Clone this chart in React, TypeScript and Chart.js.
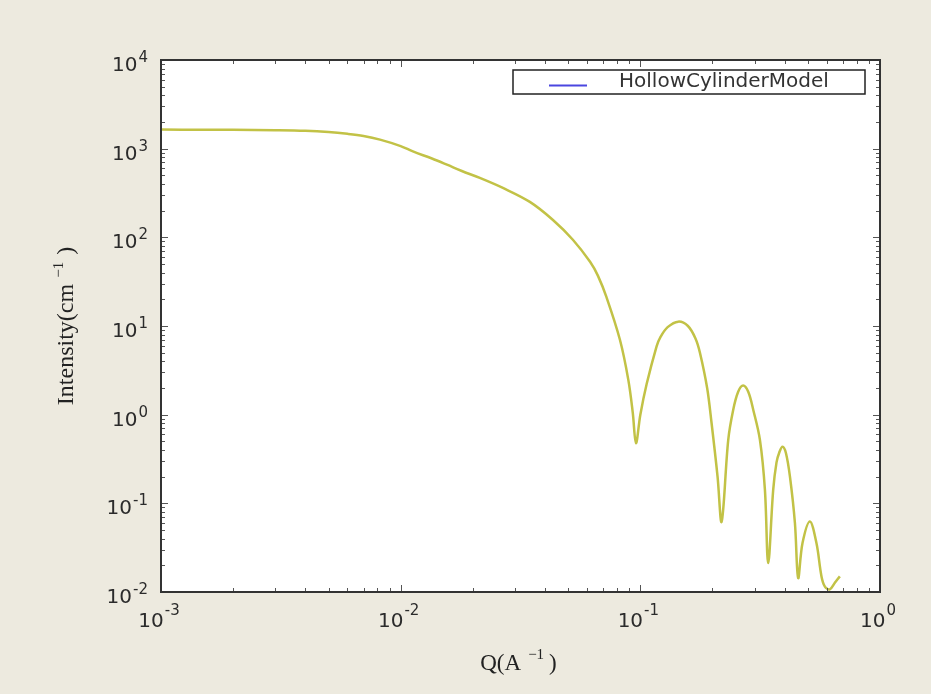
import React, { useEffect, useRef } from 'react';
import { Chart, registerables } from 'chart.js';

Chart.register(...registerables);

const qValues = [
  0.001, 0.0015, 0.002, 0.003, 0.004, 0.005, 0.006, 0.007, 0.0082, 0.01,
  0.01125, 0.0135, 0.0156, 0.018, 0.0214, 0.0267, 0.0346, 0.0432, 0.0523, 0.0617,
  0.0665, 0.0723, 0.0822, 0.0891, 0.093, 0.0959, 0.1, 0.1062, 0.1169, 0.121,
  0.13, 0.144, 0.158, 0.17, 0.1773, 0.19, 0.1983, 0.21, 0.2184, 0.2327,
  0.244, 0.256, 0.2685, 0.282, 0.296, 0.3155, 0.331, 0.3416, 0.3584, 0.37,
  0.38, 0.392, 0.405, 0.421, 0.4416, 0.4555, 0.475, 0.5097, 0.543, 0.57,
  0.589, 0.6175, 0.648, 0.68,
];

const intensityValues = [
  1640, 1638, 1632, 1615, 1590, 1540, 1470, 1390, 1265, 1070,
  930, 775, 660, 560, 468, 361, 251, 157, 94, 53,
  37, 21, 7.0, 2.47, 1.05, 0.477, 1.0, 2.2, 5.9, 7.4,
  9.7, 11.2, 10.0, 7.2, 5.0, 2.0, 0.8, 0.2, 0.062, 0.52,
  1.13, 1.81, 2.13, 1.81, 1.13, 0.52, 0.142, 0.0212, 0.142, 0.29,
  0.375, 0.436, 0.37, 0.2, 0.06, 0.0144, 0.0356, 0.0624, 0.0356, 0.015,
  0.0115, 0.0107, 0.0127, 0.015,
];

const tickBase = '10';
const xTickExponents = [-3, -2, -1, 0];
const yTickExponents = [-2, -1, 0, 1, 2, 3, 4];

const seriesLabel = 'HollowCylinderModel';
const xTitleParts = ['Q(A', '\u22121', ')'];
const yTitleParts = ['Intensity(cm', '\u22121', ')'];

const lineColor = '#C2C246';
const legendLineColor = '#4B46E0';
const pageBackground = '#EDEADF';
const textColor = '#2B2B2B';

const decorPlugin = {
  id: 'decor',
  beforeDraw(chart: any) {
    const { ctx, chartArea } = chart;
    ctx.save();
    ctx.fillStyle = pageBackground;
    ctx.fillRect(0, 0, chart.width, chart.height);
    ctx.fillStyle = '#FFFFFF';
    ctx.fillRect(chartArea.left, chartArea.top, chartArea.right - chartArea.left, chartArea.bottom - chartArea.top);
    ctx.restore();
  },
  afterDatasetsDraw(chart: any) {
    const { ctx, chartArea } = chart;
    const { left, right, top, bottom } = chartArea;
    const xs = chart.scales.x;
    const ys = chart.scales.y;
    ctx.save();
    ctx.strokeStyle = '#555';
    ctx.lineWidth = 1;
    const seg = (x1: number, y1: number, x2: number, y2: number) => {
      ctx.beginPath();
      ctx.moveTo(x1, y1);
      ctx.lineTo(x2, y2);
      ctx.stroke();
    };
    for (let e = xTickExponents[0]; e <= xTickExponents[xTickExponents.length - 1]; e++) {
      for (let m = 1; m <= 9; m++) {
        const v = m * Math.pow(10, e);
        if (v > xs.max * 1.0001) break;
        const px = Math.round(xs.getPixelForValue(v)) + 0.5;
        const len = m === 1 ? 7 : 4;
        seg(px, bottom, px, bottom - len);
        seg(px, top, px, top + len);
      }
    }
    for (let e = yTickExponents[0]; e <= yTickExponents[yTickExponents.length - 1]; e++) {
      for (let m = 1; m <= 9; m++) {
        const v = m * Math.pow(10, e);
        if (v > ys.max * 1.0001) break;
        const py = Math.round(ys.getPixelForValue(v)) + 0.5;
        const len = m === 1 ? 7 : 4;
        seg(left, py, left + len, py);
        seg(right, py, right - len, py);
      }
    }
    ctx.strokeStyle = '#333';
    ctx.lineWidth = 2;
    ctx.strokeRect(left, top, right - left, bottom - top);

    // tick labels: base "10" with raised exponent
    const baseFont = '20px "DejaVu Sans"';
    const expFont = '15px "DejaVu Sans"';
    ctx.fillStyle = textColor;
    ctx.textBaseline = 'alphabetic';
    ctx.textAlign = 'left';
    const sciWidth = (exp: string) => {
      ctx.font = baseFont;
      const wb = ctx.measureText(tickBase).width;
      ctx.font = expFont;
      const we = ctx.measureText(exp).width;
      return { wb, we, total: wb + 1 + we };
    };
    const drawSci = (exp: string, x: number, baseY: number, expY: number) => {
      const { wb } = sciWidth(exp);
      ctx.font = baseFont;
      ctx.fillText(tickBase, x, baseY);
      ctx.font = expFont;
      ctx.fillText(exp, x + wb + 1, expY);
    };
    xTickExponents.forEach((e) => {
      const exp = String(e);
      const px = xs.getPixelForValue(Math.pow(10, e));
      const { total } = sciWidth(exp);
      drawSci(exp, px - total / 2 - 2, bottom + 35, bottom + 23);
    });
    yTickExponents.forEach((e) => {
      const exp = String(e);
      const py = ys.getPixelForValue(Math.pow(10, e));
      const { total } = sciWidth(exp);
      drawSci(exp, left - 13 - total, py + 11, py + 2);
    });

    // axis titles with superscripts
    const titleFont = (s: number) => `${s}px "Liberation Serif"`;
    const drawTitle = (parts: string[], size: number, supSize: number, gap1: number, gap2: number, rise: number) => {
      ctx.font = titleFont(size);
      const w0 = ctx.measureText(parts[0]).width;
      const w2 = ctx.measureText(parts[2]).width;
      ctx.font = titleFont(supSize);
      const w1 = ctx.measureText(parts[1]).width;
      const total = w0 + gap1 + w1 + gap2 + w2;
      let x = -total / 2;
      ctx.font = titleFont(size);
      ctx.fillText(parts[0], x, 0);
      x += w0 + gap1;
      ctx.font = titleFont(supSize);
      ctx.fillText(parts[1], x, -rise);
      x += w1 + gap2;
      ctx.font = titleFont(size);
      ctx.fillText(parts[2], x, 0);
    };
    ctx.fillStyle = '#222';
    ctx.save();
    ctx.translate((left + right) / 2 - 2, 670);
    drawTitle(xTitleParts, 23, 15, 7, 5, 11);
    ctx.restore();
    ctx.save();
    ctx.translate(73, (top + bottom) / 2);
    ctx.rotate(-Math.PI / 2);
    drawTitle(yTitleParts, 24, 15, 6, 7, 10);
    ctx.restore();

    // legend
    const bx = right - 367;
    const by = top + 10;
    const bw = 352;
    const bh = 24;
    ctx.fillStyle = '#FFFFFF';
    ctx.fillRect(bx, by, bw, bh);
    ctx.strokeStyle = '#222';
    ctx.lineWidth = 1.5;
    ctx.strokeRect(bx, by, bw, bh);
    ctx.strokeStyle = legendLineColor;
    ctx.lineWidth = 2;
    seg(bx + 36, by + 15.5, bx + 74, by + 15.5);
    ctx.fillStyle = '#333';
    ctx.font = '20px "DejaVu Sans"';
    ctx.textBaseline = 'middle';
    ctx.textAlign = 'left';
    ctx.fillText(chart.data.datasets[0].label, bx + 106, by + 12);
    ctx.restore();
  },
};

export default function App() {
  const canvasRef = useRef<HTMLCanvasElement | null>(null);

  useEffect(() => {
    document.body.style.margin = '0';
    document.body.style.background = pageBackground;
    const canvas = canvasRef.current;
    if (!canvas) return;
    const points = qValues.map((q, i) => ({ x: q, y: intensityValues[i] }));
    const chart = new Chart(canvas, {
      type: 'line',
      data: {
        datasets: [
          {
            label: seriesLabel,
            data: points,
            borderColor: lineColor,
            borderWidth: 2.5,
            pointRadius: 0,
            fill: false,
            tension: 0.35,
          },
        ],
      },
      options: {
        responsive: false,
        animation: false,
        devicePixelRatio: 1,
        layout: { padding: { top: 60, right: 51, left: 0, bottom: 0 } },
        plugins: {
          legend: { display: false },
          tooltip: { enabled: false },
        },
        scales: {
          x: {
            type: 'logarithmic',
            min: 0.001,
            max: 1,
            grid: { display: false, drawTicks: false },
            border: { display: false },
            afterFit: (scale: any) => {
              scale.height = 102;
            },
            ticks: { display: false },
            title: { display: false },
          },
          y: {
            type: 'logarithmic',
            min: 0.01,
            max: 10000,
            grid: { display: false, drawTicks: false },
            border: { display: false },
            afterFit: (scale: any) => {
              scale.width = 161;
            },
            ticks: { display: false },
            title: { display: false },
          },
        },
      },
      plugins: [decorPlugin],
    } as any);
    return () => chart.destroy();
  }, []);

  return (
    <div style={{ width: 931, height: 694, background: pageBackground }}>
      <canvas ref={canvasRef} width={931} height={694} style={{ display: 'block' }} />
    </div>
  );
}
